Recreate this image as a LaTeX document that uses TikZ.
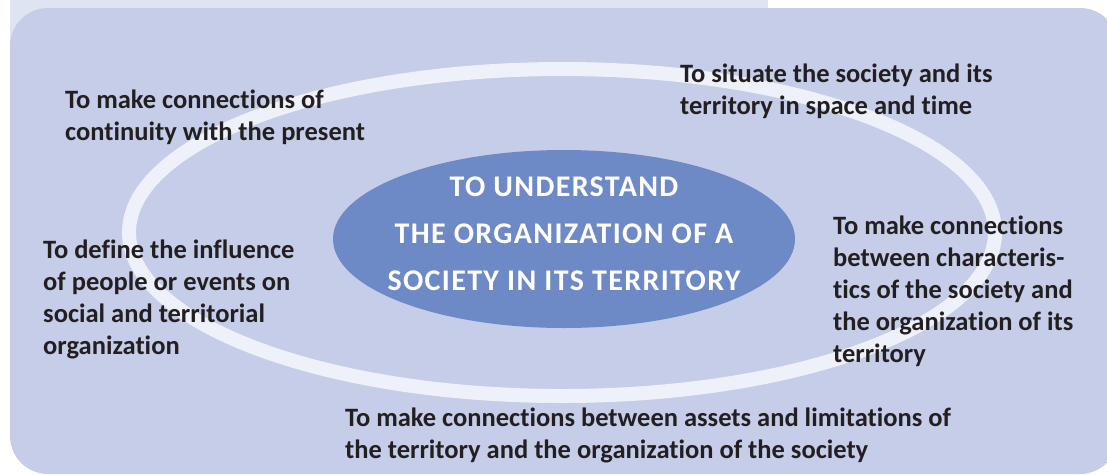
\documentclass[tikz,border=0pt]{standalone}
\usepackage{fontspec}
\setmainfont{Carlito}[Ligatures={NoCommon,NoContextual}]
\newfontfamily\corefont[LetterSpace=4.5]{Carlito}
\definecolor{panelblue}{HTML}{C6CDE8}
\definecolor{stripblue}{HTML}{DFE4F1}
\definecolor{ringwhite}{HTML}{EEF1FA}
\definecolor{coreblue}{HTML}{6D89C6}
\definecolor{inkgray}{HTML}{231F20}
\begin{document}
\begin{tikzpicture}[x=1pt,y=-1pt,
  aim/.style={anchor=base west,align=left,inner sep=0pt,text=inkgray,
    font=\bfseries\fontsize{26.5}{32}\selectfont},
  core/.style={align=center,inner sep=0pt,text=white,
    font=\corefont\bfseries\fontsize{30}{47}\selectfont}]
  \useasboundingbox (0,0) rectangle (1107,474);
  \clip (0,0) rectangle (1107,474);
  % panel
  \fill[stripblue] (10,0) rectangle (768,60);
  \fill[panelblue,rounded corners=38pt] (10,8) rectangle (1118,474);
  % ring and core
  \draw[ringwhite,line width=14pt] (562,232.5) ellipse [x radius=433,y radius=163.5];
  \fill[coreblue] (564,239) ellipse [x radius=231,y radius=89];
  \node[core] (goal) at (564,234)
    {TO UNDERSTAND\\THE ORGANIZATION OF A\\SOCIETY IN ITS TERRITORY};
  % aims round the ring (base = last line)
  \node[aim] (present) at (65,140)
    {To make connections of\\continuity with the present};
  \node[aim] (situate) at (680,114)
    {To situate the society and its\\territory in space and time};
  \node[aim] (influence) at (43,354)
    {To define the influence\\of people or events on\\social and territorial\\organization};
  \node[aim] (traits) at (833,362)
    {To make connections\\between characteris-\\tics of the society and\\the organization of its\\territory};
  \node[aim] (assets) at (345,458)
    {To make connections between assets and limitations of\\the territory and the organization of the society};
\end{tikzpicture}
\end{document}
